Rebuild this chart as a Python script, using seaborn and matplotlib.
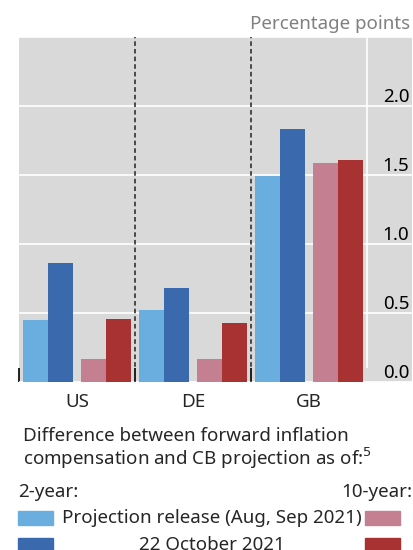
import numpy as np
import pandas as pd
import seaborn as sns
import matplotlib.pyplot as plt
from matplotlib.patches import Rectangle

sns.set_theme(style="white")
plt.rcParams['font.family'] = ['Noto Sans', 'DejaVu Sans']

countries = ["US", "DE", "GB"]
series = ["2y_release", "2y_oct", "10y_release", "10y_oct"]
two_year_release = [0.45, 0.52, 1.49]
two_year_oct = [0.86, 0.68, 1.83]
ten_year_release = [0.17, 0.17, 1.59]
ten_year_oct = [0.46, 0.43, 1.61]
yticks = [0.0, 0.5, 1.0, 1.5, 2.0]

colors = ["#6aaee0", "#3a6aad", "#c48090", "#a83232"]
offsets = [-0.355, -0.14, 0.14, 0.355]
FS = 13.5

rows = []
for s, vals, off in zip(series, [two_year_release, two_year_oct, ten_year_release, ten_year_oct], offsets):
    for i, v in enumerate(vals):
        rows.append({"pos": round(i + off, 3), "value": v, "series": s})
df = pd.DataFrame(rows)

fig = plt.figure(figsize=(4.14, 5.5), dpi=100)
ax = fig.add_axes([19 / 414, 1 - 382 / 550, 393 / 414, 345 / 550])
ax.set_facecolor("#d9d9d9")

for s, c in zip(series, colors):
    sub = df[df["series"] == s]
    ax.bar(sub["pos"], sub["value"], width=0.215, color=c, linewidth=0, zorder=3)

ax.set_xlim(-0.5, 2.888)
ax.set_ylim(0, 2.5)
for sp in ax.spines.values():
    sp.set_visible(False)

ax.set_yticks(yticks)
ax.yaxis.grid(True, color="white", linewidth=1.2, zorder=1)
ax.axhline(2.5, color="white", linewidth=1.2, zorder=1)
ax.axvline(2.5, color="white", linewidth=1.2, zorder=1)
for x in [0.5, 1.5]:
    ax.axvline(x, color="#222222", linewidth=1.1, linestyle=(0, (3, 2)), zorder=4)

ax.yaxis.tick_right()
ax.tick_params(axis="y", length=0, pad=-2, labelsize=FS, labelcolor="black")
for lab in ax.get_yticklabels():
    lab.set_ha("right")
    lab.set_va("bottom")

ax.set_xticks([0, 1, 2])
ax.set_xticklabels(countries)
ax.tick_params(axis="x", which="major", length=0, labelsize=FS, pad=8)
ax.set_xticks([-0.5, 0.5, 1.5, 2.5], minor=True)
ax.tick_params(axis="x", which="minor", direction="in", length=10, width=1.2, color="black", bottom=True)

fig.text(410 / 414, 1 - 24 / 550, "Percentage points", ha="right", va="center",
         fontsize=FS, color="#808080")

fig.text(23 / 414, 1 - 436 / 550, "Difference between forward inflation",
         ha="left", va="center", fontsize=FS)
fig.text(23 / 414, 1 - 458 / 550, "compensation and CB projection as of:$^5$",
         ha="left", va="center", fontsize=FS)
fig.text(18 / 414, 1 - 492 / 550, "2-year:", ha="left", va="center", fontsize=FS)
fig.text(412 / 414, 1 - 492 / 550, "10-year:", ha="right", va="center", fontsize=FS)

labels = ["Projection release (Aug, Sep 2021)", "22 October 2021"]
for row, (lab, cl, cr) in enumerate(zip(labels, colors[:2], colors[2:])):
    yc = 518 + row * 27
    fig.patches.append(Rectangle((18 / 414, 1 - (yc + 7) / 550), 35 / 414, 14 / 550,
                                 transform=fig.transFigure, color=cl))
    fig.patches.append(Rectangle((365 / 414, 1 - (yc + 7) / 550), 35 / 414, 14 / 550,
                                 transform=fig.transFigure, color=cr))
    fig.text(212 / 414, 1 - yc / 550, lab, ha="center", va="center", fontsize=FS)

fig.savefig("out.png", dpi=100)
